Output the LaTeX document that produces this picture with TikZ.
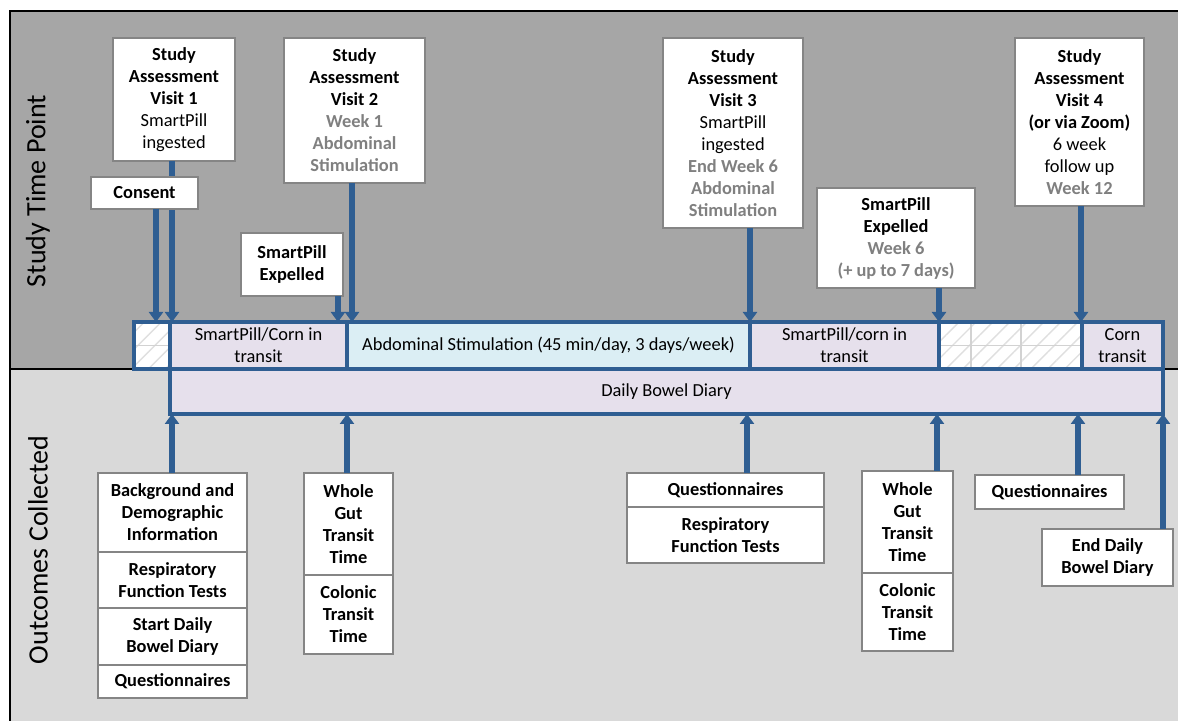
\documentclass[tikz,border=0pt]{standalone}
\usepackage{fontspec}
\setmainfont{Carlito}
\usetikzlibrary{arrows.meta,patterns.meta}

\definecolor{topgrey}{HTML}{A6A6A6}
\definecolor{botgrey}{HTML}{D9D9D9}
\definecolor{barblue}{HTML}{2F5E92}
\definecolor{lavender}{HTML}{E6E0EC}
\definecolor{iceblue}{HTML}{DBEEF4}
\definecolor{boxline}{HTML}{858585}
\definecolor{weekgrey}{HTML}{808080}

\newcommand{\bodyfont}{\fontsize{9.2}{11}\selectfont}
\newcommand{\wkg}[1]{\textcolor{weekgrey}{\textbf{#1}}}

\begin{document}
\begin{tikzpicture}[x=0.5pt, y=-0.5pt, font=\bodyfont,
    obox/.style  ={draw=boxline, line width=0.9pt, fill=white, align=center, inner sep=1pt, outer sep=0pt},
    obold/.style ={obox, font=\bodyfont\bfseries, anchor=north},
    cell/.style  ={draw=barblue, line width=2pt, align=center, inner sep=0pt, outer sep=0pt, anchor=north west},
    hatch/.style ={cell, preaction={fill=white}, pattern={Lines[angle=45,distance=6pt,line width=0.7pt]}, pattern color=gray!25},
    gridln/.style={draw=gray!35, line width=0.6pt, shorten <=1pt, shorten >=1pt},
    darr/.style  ={draw=barblue, line width=2.6pt, -{Triangle[width=7pt,length=5pt]}},
    side/.style  ={rotate=90, font=\fontsize{14}{16}\selectfont},
  ]
  \useasboundingbox (0,0) rectangle (1178,721);
  \fill[white] (0,0) rectangle (1178,721);
  % panels
  \fill[topgrey] (10,11) rectangle (1178,369);
  \fill[botgrey] (10,369) rectangle (1178,721);
  \draw[line width=1.2pt] (10,721) -- (10,11) -- (1178,11);
  \draw[line width=0.8pt] (10,369) -- (1178,369);
  \node[side] (tlab) at (38,191) {Study Time Point};
  \node[side] (olab) at (38,550) {Outcomes Collected};

  % timeline bar
  \node[hatch, minimum width=18pt, minimum height=23.5pt] (h0) at (134,322) {};
  \draw[gridln] (h0.west) -- (h0.east);
  \node[cell, fill=lavender, minimum width=88.5pt, minimum height=23.5pt] (c1) at (170,322) {SmartPill/Corn in\\transit};
  \node[cell, fill=iceblue, minimum width=201.5pt, minimum height=23.5pt] (c2) at (347,322) {Abdominal Stimulation (45 min/day, 3 days/week)};
  \node[cell, fill=lavender, minimum width=94.5pt, minimum height=23.5pt] (c3) at (750,322) {SmartPill/corn in\\transit};
  \node[hatch, minimum width=71.5pt, minimum height=23.5pt] (h1) at (939,322) {};
  \draw[gridln] (h1.west) -- (h1.east);
  \draw[gridln] ([xshift=16pt]h1.north west) -- ([xshift=16pt]h1.south west);
  \draw[gridln] ([xshift=41pt]h1.north west) -- ([xshift=41pt]h1.south west);
  \node[cell, fill=lavender, minimum width=40.5pt, minimum height=23.5pt] (c4) at (1082,322) {Corn\\transit};
  \node[cell, fill=lavender, minimum width=496.5pt, minimum height=22.5pt] (diary) at (170,369) {Daily Bowel Diary};

  % arrow ends on the bar
  \coordinate (pc)  at (156,322);
  \coordinate (pv1) at (172,322);
  \coordinate (pe1) at (338,322);
  \coordinate (pv2) at (352,322);
  \coordinate (pv3) at (750,322);
  \coordinate (pe2) at (939,322);
  \coordinate (pv4) at (1081,322);
  \coordinate (oa) at (172,414);
  \coordinate (ob) at (347,414);
  \coordinate (oc) at (747,414);
  \coordinate (od) at (937,414);
  \coordinate (oe) at (1078,414);
  \coordinate (of) at (1163,414);

  % study time points
  \node[obox, minimum width=61pt, minimum height=61.5pt] (v1) at (174,99.5)
    {\textbf{Study}\\\textbf{Assessment}\\\textbf{Visit 1}\\SmartPill\\ingested};
  \draw[darr] (v1.south -| pv1) -- (pv1);
  \node[obox, minimum width=53.5pt, minimum height=16pt] (cons) at (144.5,193) {\textbf{Consent}};
  \draw[darr] (cons.south -| pc) -- (pc);
  \node[obox, minimum width=70.5pt, minimum height=72.5pt] (v2) at (354.5,110.5)
    {\textbf{Study}\\\textbf{Assessment}\\\textbf{Visit 2}\\\wkg{Week 1}\\\wkg{Abdominal}\\\wkg{Stimulation}};
  \draw[darr] (v2.south -| pv2) -- (pv2);
  \node[obox, minimum width=51pt, minimum height=31.5pt] (e1) at (292,264.5) {\textbf{SmartPill}\\\textbf{Expelled}};
  \draw[darr] (e1.south -| pe1) -- (pe1);
  \node[obox, minimum width=70pt, minimum height=95pt] (v3) at (733,133)
    {\textbf{Study}\\\textbf{Assessment}\\\textbf{Visit 3}\\SmartPill\\ingested\\\wkg{End Week 6}\\\wkg{Abdominal}\\\wkg{Stimulation}};
  \draw[darr] (v3.south -| pv3) -- (pv3);
  \node[obox, minimum width=79pt, minimum height=50pt] (e2) at (896,238)
    {\textbf{SmartPill}\\\textbf{Expelled}\\\wkg{Week 6}\\\wkg{(+ up to 7 days)}};
  \draw[darr] (e2.south -| pe2) -- (pe2);
  \node[obox, minimum width=64.5pt, minimum height=84pt] (v4) at (1079.5,122)
    {\textbf{Study}\\\textbf{Assessment}\\\textbf{Visit 4}\\\textbf{(or via Zoom)}\\6 week\\follow up\\\wkg{Week 12}};
  \draw[darr] (v4.south -| pv4) -- (pv4);

  % outcomes collected
  \node[obold, minimum width=74.5pt, minimum height=39.5pt] (bg) at (172.5,473) {Background and\\Demographic\\Information};
  \node[obold, minimum width=74.5pt, minimum height=28pt] (rfa) at (bg.south) {Respiratory\\Function Tests};
  \node[obold, minimum width=74.5pt, minimum height=28.5pt] (sdb) at (rfa.south) {Start Daily\\Bowel Diary};
  \node[obold, minimum width=74.5pt, minimum height=16.5pt] (qa) at (sdb.south) {Questionnaires};
  \draw[darr] (bg.north -| oa) -- (oa);

  \node[obold, minimum width=44.5pt, minimum height=51pt] (wga) at (348.5,473) {Whole\\Gut\\Transit\\Time};
  \node[obold, minimum width=44.5pt, minimum height=39.5pt] (cta) at (wga.south) {Colonic\\Transit\\Time};
  \draw[darr] (wga.north -| ob) -- (ob);

  \node[obold, minimum width=98.5pt, minimum height=17pt] (qc) at (725.5,473) {Questionnaires};
  \node[obold, minimum width=98.5pt, minimum height=28pt] (rfc) at (qc.south) {Respiratory\\Function Tests};
  \draw[darr] (qc.north -| oc) -- (oc);

  \node[obold, minimum width=45.5pt, minimum height=51pt] (wgb) at (907.5,471) {Whole\\Gut\\Transit\\Time};
  \node[obold, minimum width=45.5pt, minimum height=39pt] (ctb) at (wgb.south) {Colonic\\Transit\\Time};
  \draw[darr] (wgb.north -| od) -- (od);

  \node[obold, minimum width=74.5pt, minimum height=17pt] (qe) at (1049.5,475) {Questionnaires};
  \draw[darr] (qe.north -| oe) -- (oe);

  \node[obold, minimum width=65.5pt, minimum height=28.5pt] (edb) at (1107.5,529) {End Daily\\Bowel Diary};
  \draw[darr] (edb.north -| of) -- (of);
\end{tikzpicture}
\end{document}
